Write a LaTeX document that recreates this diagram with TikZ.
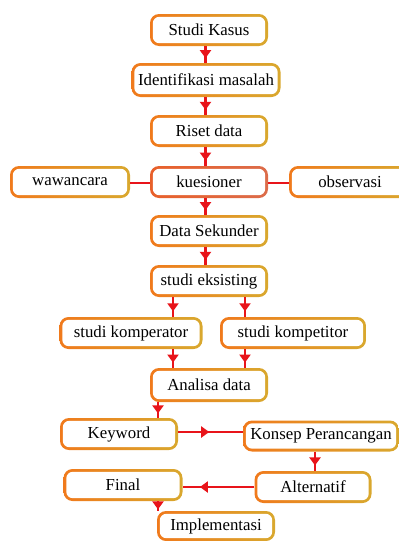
\documentclass[tikz,border=0pt]{standalone}
\usepackage{fontspec}
\setmainfont{Liberation Serif}
\usepackage{xcolor}
\usetikzlibrary{arrows.meta,decorations.markings,calc}

\definecolor{boxL}{HTML}{F07A1C}
\definecolor{boxR}{HTML}{D9A82E}
\definecolor{kueL}{HTML}{E8602A}
\definecolor{kueR}{HTML}{DC6C4A}
\definecolor{arrRed}{HTML}{E8141A}

\begin{document}
\begin{tikzpicture}[x=1pt,y=-1pt,
                    box/.style={rectangle,rounded corners=9pt,
                    left color=boxL,right color=boxR,
                    minimum width=118pt,minimum height=32pt,inner sep=0pt,
                    font=\fontsize{16.8}{18}\selectfont,
                    path picture={\fill[white,rounded corners=6.5pt]
                        ([shift={(2.8pt,2.8pt)}]path picture bounding box.south west) rectangle
                        ([shift={(-2.8pt,-2.8pt)}]path picture bounding box.north east);}},
                    kbox/.style={box,left color=kueL,right color=kueR},
                    link/.style={draw=arrRed,line width=2.4pt},
                    arr/.style={link,postaction={decorate},
                    decoration={markings,mark=at position #1 with
                        {\arrow[arrRed]{Triangle[length=8pt,width=11pt]}}}},
                    arr/.default=0.72]
    \clip (0,0) rectangle (399,541);

    \node[box] (kasus) at (209,30) {Studi Kasus};
    \node[box,minimum width=149pt,minimum height=34pt] (identifikasi) at (206,80) {Identifikasi masalah};
    \node[box] (riset) at (209,131) {Riset data};
    \node[box,minimum width=120pt] (wawancara) at (70,182) {wawancara};
    \node[kbox] (kuesioner) at (209,182) {kuesioner};
    \node[box,minimum width=122pt] (observasi) at (350,182) {observasi};
    \node[box] (sekunder) at (209,231) {Data Sekunder};
    \node[box] (eksisting) at (209,281) {studi eksisting};
    \node[box,minimum width=143pt] (komperator) at (131,333) {studi komperator};
    \node[box,minimum width=146pt] (kompetitor) at (293,333) {studi kompetitor};
    \node[box,minimum height=34pt] (analisa) at (209,385) {Analisa data};
    \node[box] (keyword) at (119,434) {Keyword};
    \node[box,minimum width=156pt,minimum height=31pt] (konsep) at (321,436) {Konsep Perancangan};
    \node[box,minimum width=117pt] (alternatif) at (313,487) {Alternatif};
    \node[box,minimum width=119pt] (final) at (123,485) {Final};
    \node[box,minimum height=30pt] (implementasi) at (216,526) {Implementasi};

    \coordinate (colA) at (205.5,0);
    \coordinate (colB) at (173,0);
    \coordinate (colC) at (245,0);
    \coordinate (colD) at (158,0);
    \coordinate (colE) at (315,0);
    \coordinate (rowA) at (0,183);
    \coordinate (rowB) at (0,432);
    \coordinate (rowC) at (0,487);

    \draw[arr] (kasus.south -| colA) -- (identifikasi.north -| colA);
    \draw[arr] (identifikasi.south -| colA) -- (riset.north -| colA);
    \draw[arr] (riset.south -| colA) -- (kuesioner.north -| colA);
    \draw[link] (kuesioner.west |- rowA) -- (wawancara.east |- rowA);
    \draw[link] (kuesioner.east |- rowA) -- (observasi.west |- rowA);
    \draw[arr] (kuesioner.south -| colA) -- (sekunder.north -| colA);
    \draw[arr] (sekunder.south -| colA) -- (eksisting.north -| colA);
    \draw[arr] (eksisting.south -| colB) -- (komperator.north -| colB);
    \draw[arr] (eksisting.south -| colC) -- (kompetitor.north -| colC);
    \draw[arr] (komperator.south -| colB) -- (analisa.north -| colB);
    \draw[arr] (kompetitor.south -| colC) -- (analisa.north -| colC);
    \draw[arr] (analisa.south -| colD) -- (keyword.north -| colD);
    \draw[arr=0.48] (keyword.east |- rowB) -- (konsep.west |- rowB);
    \draw[arr] (konsep.south -| colE) -- (alternatif.north -| colE);
    \draw[arr=0.76] (alternatif.west |- rowC) -- (final.east |- rowC);
    \draw[arr=0.85] (final.south -| colD) -- (implementasi.north -| colD);
\end{tikzpicture}
\end{document}
